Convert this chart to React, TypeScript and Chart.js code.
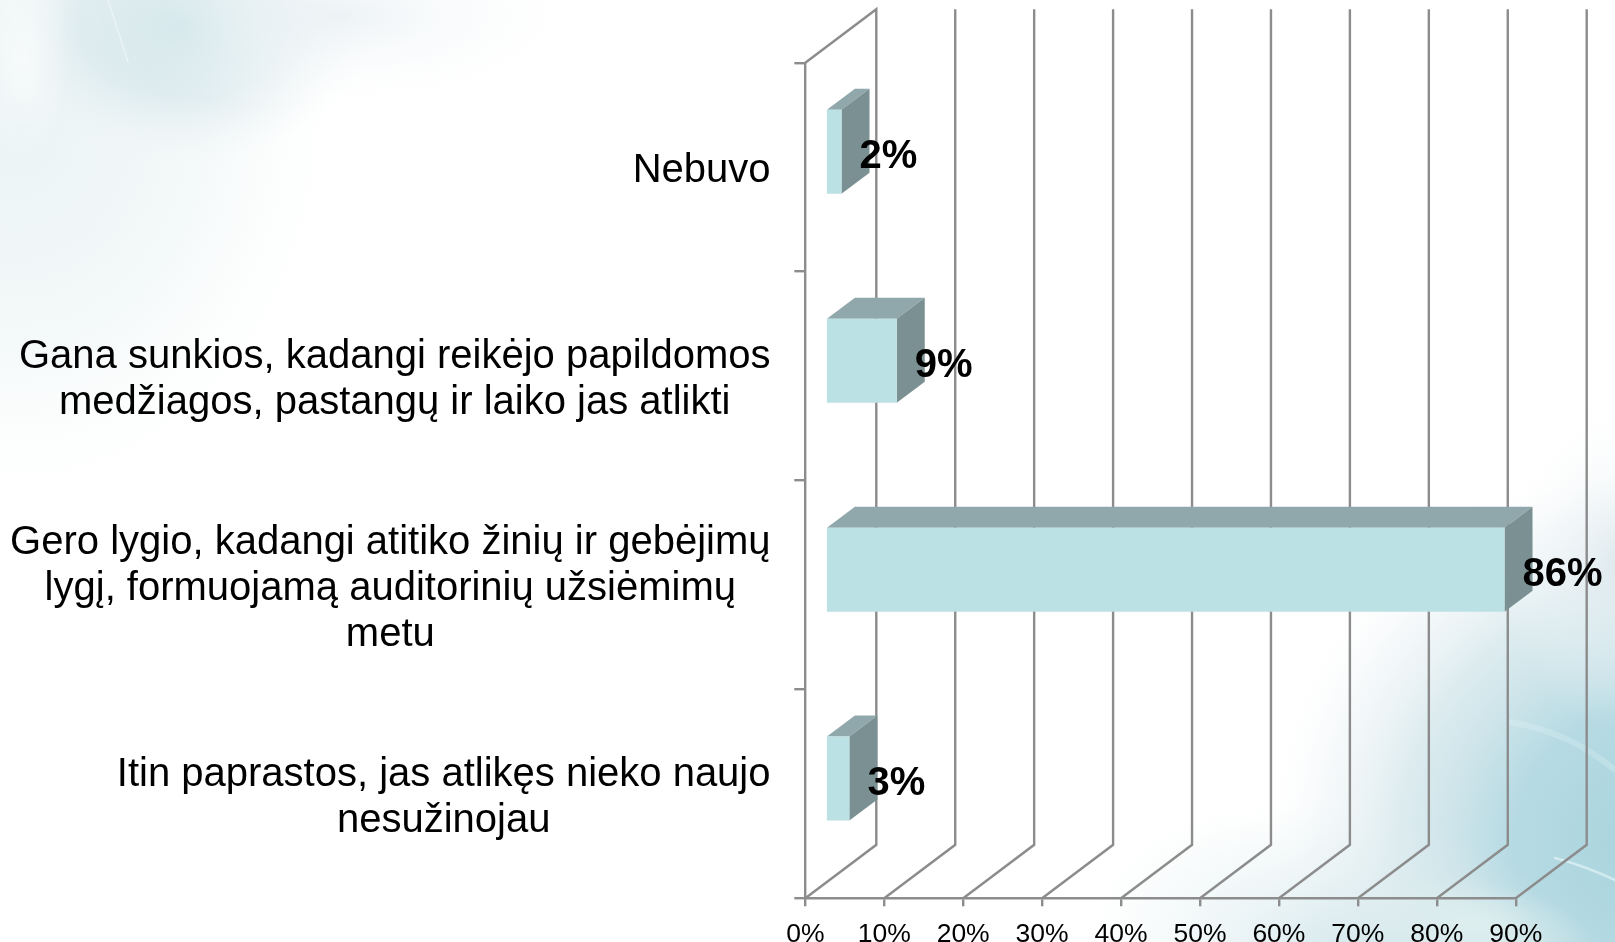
import React, { useEffect, useRef } from "react";
import { Chart, registerables } from "chart.js";

Chart.register(...registerables);

const categories: string[][] = [
  ["Nebuvo"],
  ["Gana sunkios, kadangi reikėjo papildomos", "medžiagos, pastangų ir laiko jas atlikti"],
  ["Gero lygio, kadangi atitiko žinių ir gebėjimų", "lygį, formuojamą auditorinių užsiėmimų", "metu"],
  ["Itin paprastos, jas atlikęs nieko naujo", "nesužinojau"],
];
const shares: number[] = [2, 9, 86, 3];
const axisMax = 90;
const axisStep = 10;

const FONT = '"Liberation Sans", Arial, sans-serif';
const LINE = "#8c8c8c";
const FRONT_FACE = "#bbe1e4";
const TOP_FACE = "#90a8ac";
const SIDE_FACE = "#7a9092";
const WALL = { x: 71, y: -53.5 };
const SLOT = { x: 20.4, y: -15.3 };
const DEPTH = { x: 28, y: -21 };
const LABEL_RIGHT = 770.5;
const LABEL_NUDGE_Y = 4;

function blob(ctx: CanvasRenderingContext2D, cx: number, cy: number, rx: number, ry: number, rot: number, stops: [number, string][]) {
  ctx.save();
  ctx.translate(cx, cy);
  ctx.rotate(rot);
  ctx.scale(rx, ry);
  const g = ctx.createRadialGradient(0, 0, 0, 0, 0, 1);
  stops.forEach(([o, c]) => g.addColorStop(o, c));
  ctx.fillStyle = g;
  ctx.beginPath();
  ctx.arc(0, 0, 1, 0, Math.PI * 2);
  ctx.fill();
  ctx.restore();
}

function streak(ctx: CanvasRenderingContext2D, pts: number[], color: string, width: number) {
  ctx.save();
  ctx.strokeStyle = color;
  ctx.lineWidth = width;
  ctx.lineCap = "round";
  ctx.beginPath();
  ctx.moveTo(pts[0], pts[1]);
  if (pts.length === 6) ctx.quadraticCurveTo(pts[2], pts[3], pts[4], pts[5]);
  else ctx.lineTo(pts[2], pts[3]);
  ctx.stroke();
  ctx.restore();
}

const backdrop = {
  id: "backdrop",
  beforeDraw(chart: any) {
    const { ctx, width, height } = chart;
    ctx.save();
    ctx.beginPath();
    ctx.rect(0, 0, width, height);
    ctx.clip();
    ctx.fillStyle = "#ffffff";
    ctx.fillRect(0, 0, width, height);

    // top-left wash
    blob(ctx, 20, 130, 340, 400, 0.1, [
      [0, "rgba(228,240,241,0.8)"],
      [0.55, "rgba(238,245,246,0.6)"],
      [1, "rgba(255,255,255,0)"],
    ]);
    blob(ctx, 180, 25, 190, 140, 0, [
      [0, "rgba(198,224,229,0.95)"],
      [0.55, "rgba(216,232,236,0.65)"],
      [1, "rgba(240,244,246,0)"],
    ]);
    blob(ctx, 340, 15, 260, 100, 0, [
      [0, "rgba(233,240,243,0.8)"],
      [1, "rgba(255,255,255,0)"],
    ]);
    blob(ctx, 25, 60, 45, 110, 0.05, [
      [0, "rgba(255,255,255,0.55)"],
      [1, "rgba(255,255,255,0)"],
    ]);
    streak(ctx, [108, 0, 128, 62], "rgba(255,255,255,0.4)", 1.5);

    // bottom-right wash
    blob(ctx, 1650, 845, 390, 390, -0.1, [
      [0, "rgba(168,212,222,1)"],
      [0.35, "rgba(178,216,225,0.95)"],
      [0.65, "rgba(208,228,233,0.7)"],
      [0.85, "rgba(234,241,244,0.4)"],
      [1, "rgba(255,255,255,0)"],
    ]);
    blob(ctx, 1350, 960, 260, 150, 0.2, [
      [0, "rgba(205,228,233,0.85)"],
      [1, "rgba(225,238,240,0)"],
    ]);
    blob(ctx, 1480, 925, 120, 45, 0.2, [
      [0, "rgba(226,241,240,0.8)"],
      [1, "rgba(226,241,240,0)"],
    ]);
    blob(ctx, 1620, 560, 120, 170, 0, [
      [0, "rgba(218,230,235,0.7)"],
      [1, "rgba(255,255,255,0)"],
    ]);
    streak(ctx, [1555, 858, 1585, 866, 1615, 880], "rgba(235,248,250,0.6)", 2.5);
    streak(ctx, [1510, 722, 1570, 732, 1615, 770], "rgba(226,243,247,0.28)", 6);

    // back wall and floor, placed through the value scale
    const xs = chart.scales.x;
    const area = chart.chartArea;
    ctx.strokeStyle = LINE;
    ctx.lineWidth = 2.4;
    for (let v = 0; v <= axisMax; v += axisStep) {
      const px = xs.getPixelForValue(v);
      ctx.beginPath();
      ctx.moveTo(px, area.bottom);
      ctx.lineTo(px + WALL.x, area.bottom + WALL.y);
      ctx.lineTo(px + WALL.x, area.top + WALL.y);
      if (v === 0) ctx.lineTo(px, area.top);
      ctx.stroke();
    }
    ctx.restore();

    // each category label is a centred block, flush right as a block
    const ys = chart.scales.y;
    ctx.save();
    const items = ys.getLabelItems(area);
    items.forEach((item: any) => {
      ctx.font = item.font.string;
      const lines: string[] = Array.isArray(item.label) ? item.label : [item.label];
      const w = Math.max(...lines.map((l) => ctx.measureText(l).width));
      item.options.textAlign = "center";
      item.options.translation = [LABEL_RIGHT - w / 2, item.options.translation[1] + LABEL_NUDGE_Y];
    });
    ctx.restore();
  },
};

const bars3d = {
  id: "bars3d",
  beforeDatasetsDraw(chart: any) {
    const { ctx } = chart;
    const meta = chart.getDatasetMeta(0);
    ctx.save();
    meta.data.forEach((el: any) => {
      const { x, y, height, base } = el.getProps(["x", "y", "height", "base"], true);
      const l = base + SLOT.x;
      const r = x + SLOT.x;
      const t = y - height / 2 + SLOT.y;
      const b = y + height / 2 + SLOT.y;
      ctx.fillStyle = TOP_FACE;
      ctx.beginPath();
      ctx.moveTo(l, t);
      ctx.lineTo(l + DEPTH.x, t + DEPTH.y);
      ctx.lineTo(r + DEPTH.x, t + DEPTH.y);
      ctx.lineTo(r, t);
      ctx.closePath();
      ctx.fill();
      ctx.fillStyle = SIDE_FACE;
      ctx.beginPath();
      ctx.moveTo(r, t);
      ctx.lineTo(r + DEPTH.x, t + DEPTH.y);
      ctx.lineTo(r + DEPTH.x, b + DEPTH.y);
      ctx.lineTo(r, b);
      ctx.closePath();
      ctx.fill();
    });
    ctx.restore();
    ctx.save();
    ctx.translate(SLOT.x, SLOT.y);
  },
  afterDatasetsDraw(chart: any) {
    const { ctx } = chart;
    ctx.restore();
    const meta = chart.getDatasetMeta(0);
    ctx.save();
    ctx.font = `bold 40px ${FONT}`;
    ctx.fillStyle = "#000000";
    ctx.textAlign = "left";
    ctx.textBaseline = "middle";
    meta.data.forEach((el: any, i: number) => {
      const { x, y } = el.getProps(["x", "y"], true);
      ctx.fillText(`${shares[i]}%`, x + SLOT.x + 18, y + SLOT.y + 5);
    });
    ctx.restore();
  },
};

export default function App() {
  const ref = useRef<HTMLCanvasElement | null>(null);
  useEffect(() => {
    document.body.style.margin = "0";
    const chart = new Chart(ref.current as HTMLCanvasElement, {
      type: "bar",
      data: {
        labels: categories,
        datasets: [
          {
            data: shares,
            backgroundColor: FRONT_FACE,
            borderWidth: 0,
            barPercentage: 0.402,
            categoryPercentage: 1,
            clip: false,
          } as any,
        ],
      },
      plugins: [backdrop, bars3d],
      options: {
        indexAxis: "y",
        animation: false,
        responsive: false,
        layout: { padding: { left: 0, top: 62.7, right: 99.3, bottom: 0 } },
        plugins: { legend: { display: false }, tooltip: { enabled: false } },
        scales: {
          x: {
            type: "linear",
            min: 0,
            max: axisMax,
            afterFit(s: any) {
              s.height = 43.7;
              s.paddingLeft = 0;
              s.paddingRight = 0;
            },
            ticks: {
              stepSize: axisStep,
              maxRotation: 0,
              color: "#000000",
              padding: 12,
              font: { family: FONT, size: 26.5 },
              callback: (v: any) => `${v}%`,
            },
            grid: { drawOnChartArea: false, drawTicks: true, tickLength: 8, color: LINE, lineWidth: 2.4 },
            border: { display: true, color: LINE, width: 2.4 },
          },
          y: {
            type: "category",
            afterFit(s: any) {
              s.width = 805.3;
              s.paddingTop = 0;
              s.paddingBottom = 0;
            },
            ticks: {
              color: "#000000",
              autoSkip: false,
              font: { family: FONT, size: 40, lineHeight: 46 / 40 },
            },
            grid: { drawOnChartArea: false, drawTicks: true, tickLength: 11, color: LINE, lineWidth: 2.4 },
            border: { display: true, color: LINE, width: 2.4 },
          },
        },
      },
    } as any);
    return () => chart.destroy();
  }, []);
  return <canvas ref={ref} width={1615} height={942} style={{ display: "block", width: 1615, height: 942 }} />;
}
